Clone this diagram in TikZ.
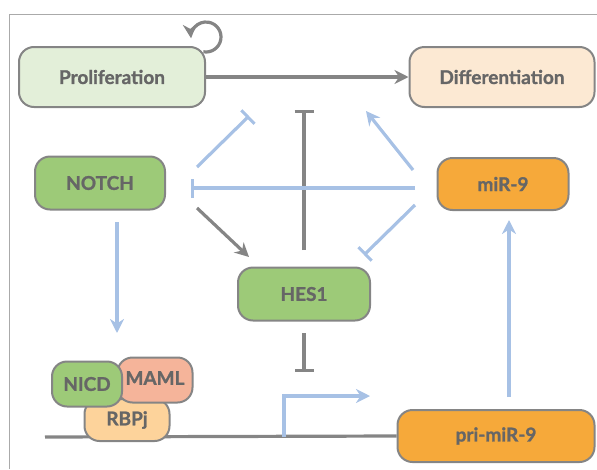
\documentclass[tikz,border=0pt]{standalone}
\usepackage{fontspec}
\setmainfont{Lato}[BoldFeatures={FakeBold=1.2}]
\usepackage{xcolor}
\usetikzlibrary{arrows.meta}

\definecolor{linegray}{HTML}{858585}
\definecolor{textgray}{HTML}{666666}
\definecolor{pathblue}{HTML}{A7C1E5}
\definecolor{palegreen}{HTML}{E3EFD9}
\definecolor{leafgreen}{HTML}{9DCA78}
\definecolor{paleorange}{HTML}{FCE9D3}
\definecolor{deeporange}{HTML}{F6A93A}
\definecolor{salmon}{HTML}{F5B49A}
\definecolor{sand}{HTML}{FDD39B}

\tikzset{
  box/.style={draw=linegray, line width=2pt, rounded corners=15pt,
    text=textgray, font=\fontsize{19}{22}\selectfont\bfseries},
  graylink/.style={draw=linegray, line width=3.2pt},
  bluelink/.style={draw=pathblue, line width=3.2pt},
  act/.style={-{Stealth[length=14pt,width=14pt]}},
  inh/.style={-{Bar[width=19pt,line width=3pt]}}
}

\begin{document}
\begin{tikzpicture}[x=1pt, y=-1pt]

  \useasboundingbox (0,0) rectangle (597,469);
  \draw[linegray!70, line width=1pt] (9,469) -- (9,14) -- (597,14);

  % Define nodes
  \node[box, fill=palegreen, minimum width=186pt, minimum height=60pt] (prolif) at (112,77) {Proliferation};
  \node[box, fill=paleorange, minimum width=185pt, minimum height=60pt] (diff) at (502,77) {Differentiation};
  \node[box, fill=leafgreen, minimum width=130pt, minimum height=53pt] (notch) at (100,183) {NOTCH};
  \node[box, fill=deeporange, minimum width=131pt, minimum height=52pt] (mir) at (503,184) {miR-9};
  \node[box, fill=leafgreen, minimum width=132pt, minimum height=53pt] (hes) at (304,294) {HES1};
  \node[box, fill=deeporange, minimum width=197pt, minimum height=52pt] (primir) at (496,436) {pri-miR-9};

  % Complex on the DNA
  \coordinate (dnaL) at (45,437);
  \draw[graylink] (dnaL) -- (primir.west);
  \node[box, fill=sand, minimum width=85pt, minimum height=42pt] (rbpj) at (127,420) {RBPj};
  \node[box, fill=salmon, minimum width=75pt, minimum height=45pt, text depth=4pt] (maml) at (155,380) {MAML};
  \node[box, fill=leafgreen, minimum width=70pt, minimum height=45pt] (nicd) at (87,384) {NICD};

  % Free ends
  \coordinate (loopc) at (206,37);
  \coordinate (tss) at (284,437);
  \coordinate (tssEnd) at (370,396);
  \coordinate (hesUp) at (304,250);
  \coordinate (hesUpEnd) at (304,110);
  \coordinate (hesDown) at (304,333);
  \coordinate (hesDownEnd) at (304,372);
  \coordinate (notchA) at (197,208);
  \coordinate (notchAEnd) at (249,257);
  \coordinate (notchB) at (117,222);
  \coordinate (notchBEnd) at (117,333);
  \coordinate (notchC) at (197,167);
  \coordinate (notchCEnd) at (249,116);
  \coordinate (mirA) at (415,188);
  \coordinate (mirAEnd) at (191,188);
  \coordinate (mirB) at (413,170);
  \coordinate (mirBEnd) at (366,111);
  \coordinate (mirC) at (415,205);
  \coordinate (mirCEnd) at (364,255);
  \coordinate (priA) at (509,397);
  \coordinate (priAEnd) at (509,220);

  % Connect nodes
  \draw[graylink, act] (prolif) -- (diff);
  \draw[graylink, act] (loopc) ++(100:15) arc[start angle=100, end angle=-185, radius=15];
  \draw[graylink, inh] (hesUp) -- (hesUpEnd);
  \draw[graylink, inh] (hesDown) -- (hesDownEnd);
  \draw[graylink, act] (notchA) -- (notchAEnd);
  \draw[bluelink, act] (notchB) -- (notchBEnd);
  \draw[bluelink, inh] (notchC) -- (notchCEnd);
  \draw[bluelink, inh] (mirA) -- (mirAEnd);
  \draw[bluelink, act] (mirB) -- (mirBEnd);
  \draw[bluelink, inh] (mirC) -- (mirCEnd);
  \draw[bluelink, act] (priA) -- (priAEnd);
  \draw[bluelink, act] (tss) |- (tssEnd);

\end{tikzpicture}
\end{document}
